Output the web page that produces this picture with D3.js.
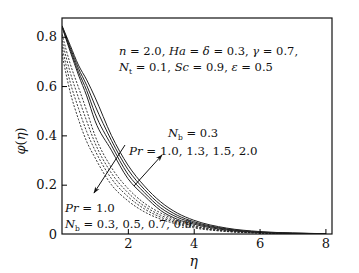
<!DOCTYPE html>
<html><head><meta charset="utf-8">
<script src="https://cdn.jsdelivr.net/npm/d3@7"></script>
<style>
body{margin:0;background:#fff;}
</style></head>
<body><svg id="c" width="359" height="273"></svg>
<script>
const etas = [0,0.25,0.5,0.75,1.0,1.5,2.0,2.5,3.0,3.5,4,5,6,7,8];
const prLabels = ["1.0","1.3","1.5","2.0"];
const solidPr1_0 = [0.840,0.740,0.645,0.560,0.460,0.340,0.225,0.155,0.095,0.060,0.040,0.016,0.006,0.002,0.001];
const solidPr1_3 = [0.842,0.748,0.658,0.582,0.490,0.360,0.243,0.168,0.106,0.068,0.045,0.019,0.007,0.003,0.001];
const solidPr1_5 = [0.843,0.756,0.672,0.603,0.522,0.380,0.262,0.181,0.118,0.076,0.050,0.021,0.008,0.0035,0.0012];
const solidPr2_0 = [0.845,0.765,0.685,0.625,0.555,0.400,0.280,0.195,0.130,0.085,0.056,0.024,0.010,0.004,0.0015];
const nbLabels = ["0.3","0.5","0.7","0.9"];
const dashNb0_3 = [0.810,0.690,0.595,0.500,0.400,0.270,0.185,0.125,0.085,0.055,0.035,0.014,0.005,0.002,0.001];
const dashNb0_5 = [0.785,0.655,0.553,0.458,0.370,0.247,0.168,0.113,0.076,0.050,0.032,0.012,0.0048,0.0018,0.0008];
const dashNb0_7 = [0.760,0.615,0.510,0.415,0.340,0.225,0.152,0.102,0.068,0.045,0.029,0.011,0.0045,0.0017,0.0006];
const dashNb0_9 = [0.730,0.575,0.465,0.375,0.310,0.200,0.135,0.090,0.060,0.040,0.025,0.010,0.004,0.0015,0.0005];
const xTicks = [2,4,6,8];
const yTicks = [0,0.2,0.4,0.6,0.8];

const FONT = "DejaVu Serif";
const svg = d3.select("#c");
const L=62,R=332,T=18,B=234;
const x = d3.scaleLinear().domain([0,8.2]).range([L,R]);
const y = d3.scaleLinear().domain([0,0.876]).range([B,T]);

svg.append("defs").append("marker").attr("id","ah").attr("viewBox","0 0 10 10")
  .attr("refX",9).attr("refY",5).attr("markerWidth",7).attr("markerHeight",7).attr("orient","auto")
  .append("path").attr("d","M0,1.5 L10,5 L0,8.5 L3,5 Z").attr("fill","#111");

const line = d3.line().x((d,i)=>x(etas[i])).y(d=>y(d)).curve(d3.curveMonotoneX);
svg.append("clipPath").attr("id","cp").append("rect").attr("x",L).attr("y",T).attr("width",R-L).attr("height",B-T);
const lines = svg.append("g").attr("clip-path","url(#cp)");
[solidPr1_0,solidPr1_3,solidPr1_5,solidPr2_0].forEach(s=>{
  lines.append("path").attr("d",line(s)).attr("fill","none").attr("stroke","#222").attr("stroke-width",1);
});
[dashNb0_3,dashNb0_5,dashNb0_7,dashNb0_9].forEach(s=>{
  lines.append("path").attr("d",line(s)).attr("fill","none").attr("stroke","#222").attr("stroke-width",0.9).attr("stroke-dasharray","2,1.5");
});

svg.append("rect").attr("x",L).attr("y",T).attr("width",R-L).attr("height",B-T).attr("fill","none").attr("stroke","#111").attr("stroke-width",1.2);

const xa = svg.append("g").attr("transform",`translate(0,${B})`)
  .call(d3.axisBottom(x).tickValues(xTicks).tickSizeInner(-5).tickSizeOuter(0).tickPadding(5).tickFormat(d3.format("d")));
xa.select(".domain").remove();
xa.attr("font-family",FONT);
xa.selectAll("text").attr("font-size",13).attr("fill","#111");
const ya = svg.append("g").attr("transform",`translate(${L},0)`)
  .call(d3.axisLeft(y).tickValues(yTicks).tickSizeInner(-5).tickSizeOuter(0).tickPadding(5).tickFormat(d=>d===0?"0":d3.format(".1f")(d)));
ya.select(".domain").remove();
ya.attr("font-family",FONT);
ya.selectAll("text").attr("font-size",13).attr("fill","#111");
ya.selectAll(".tick").filter(d=>d===0).select("line").remove();

function T_(xp,yp,fs,html){ return svg.append("text").attr("x",xp).attr("y",yp).attr("font-size",fs).attr("fill","#111").attr("font-family",FONT).html(html); }

T_(x(4),266,14,'<tspan font-style="italic">η</tspan>').attr("text-anchor","middle");
svg.append("text").attr("transform","translate(25,141) rotate(-90)").attr("text-anchor","middle").attr("font-size",13).attr("fill","#111").attr("font-family",FONT)
  .html('<tspan font-style="italic">φ</tspan>(<tspan font-style="italic">η</tspan>)');

const fs=11.5;
T_(119,55,fs,'<tspan font-style="italic">n</tspan> = 2.0, <tspan font-style="italic">Ha</tspan> = <tspan font-style="italic">δ</tspan> = 0.3, <tspan font-style="italic">γ</tspan> = 0.7,');
T_(119,71,fs,'<tspan font-style="italic">N</tspan><tspan font-size="7.5" dy="3">t</tspan><tspan dy="-3"> = 0.1, </tspan><tspan font-style="italic">Sc</tspan> = 0.9, <tspan font-style="italic">ε</tspan> = 0.5');
T_(168,137,fs,'<tspan font-style="italic">N</tspan><tspan font-size="7.5" dy="3">b</tspan><tspan dy="-3"> = 0.3</tspan>');
T_(129,155,fs+0.3,'<tspan font-style="italic">Pr</tspan> = ' + prLabels.join(", "));
T_(65,212,fs+0.3,'<tspan font-style="italic">Pr</tspan> = 1.0');
T_(65,228,fs,'<tspan font-style="italic">N</tspan><tspan font-size="7.5" dy="3">b</tspan><tspan dy="-3"> = ' + nbLabels.join(", ") + '</tspan>');

svg.append("line").attr("x1",134).attr("y1",186).attr("x2",162).attr("y2",155).attr("stroke","#111").attr("stroke-width",1).attr("marker-end","url(#ah)");
svg.append("line").attr("x1",125).attr("y1",145).attr("x2",94).attr("y2",193).attr("stroke","#111").attr("stroke-width",1).attr("marker-end","url(#ah)");
</script></body></html>
